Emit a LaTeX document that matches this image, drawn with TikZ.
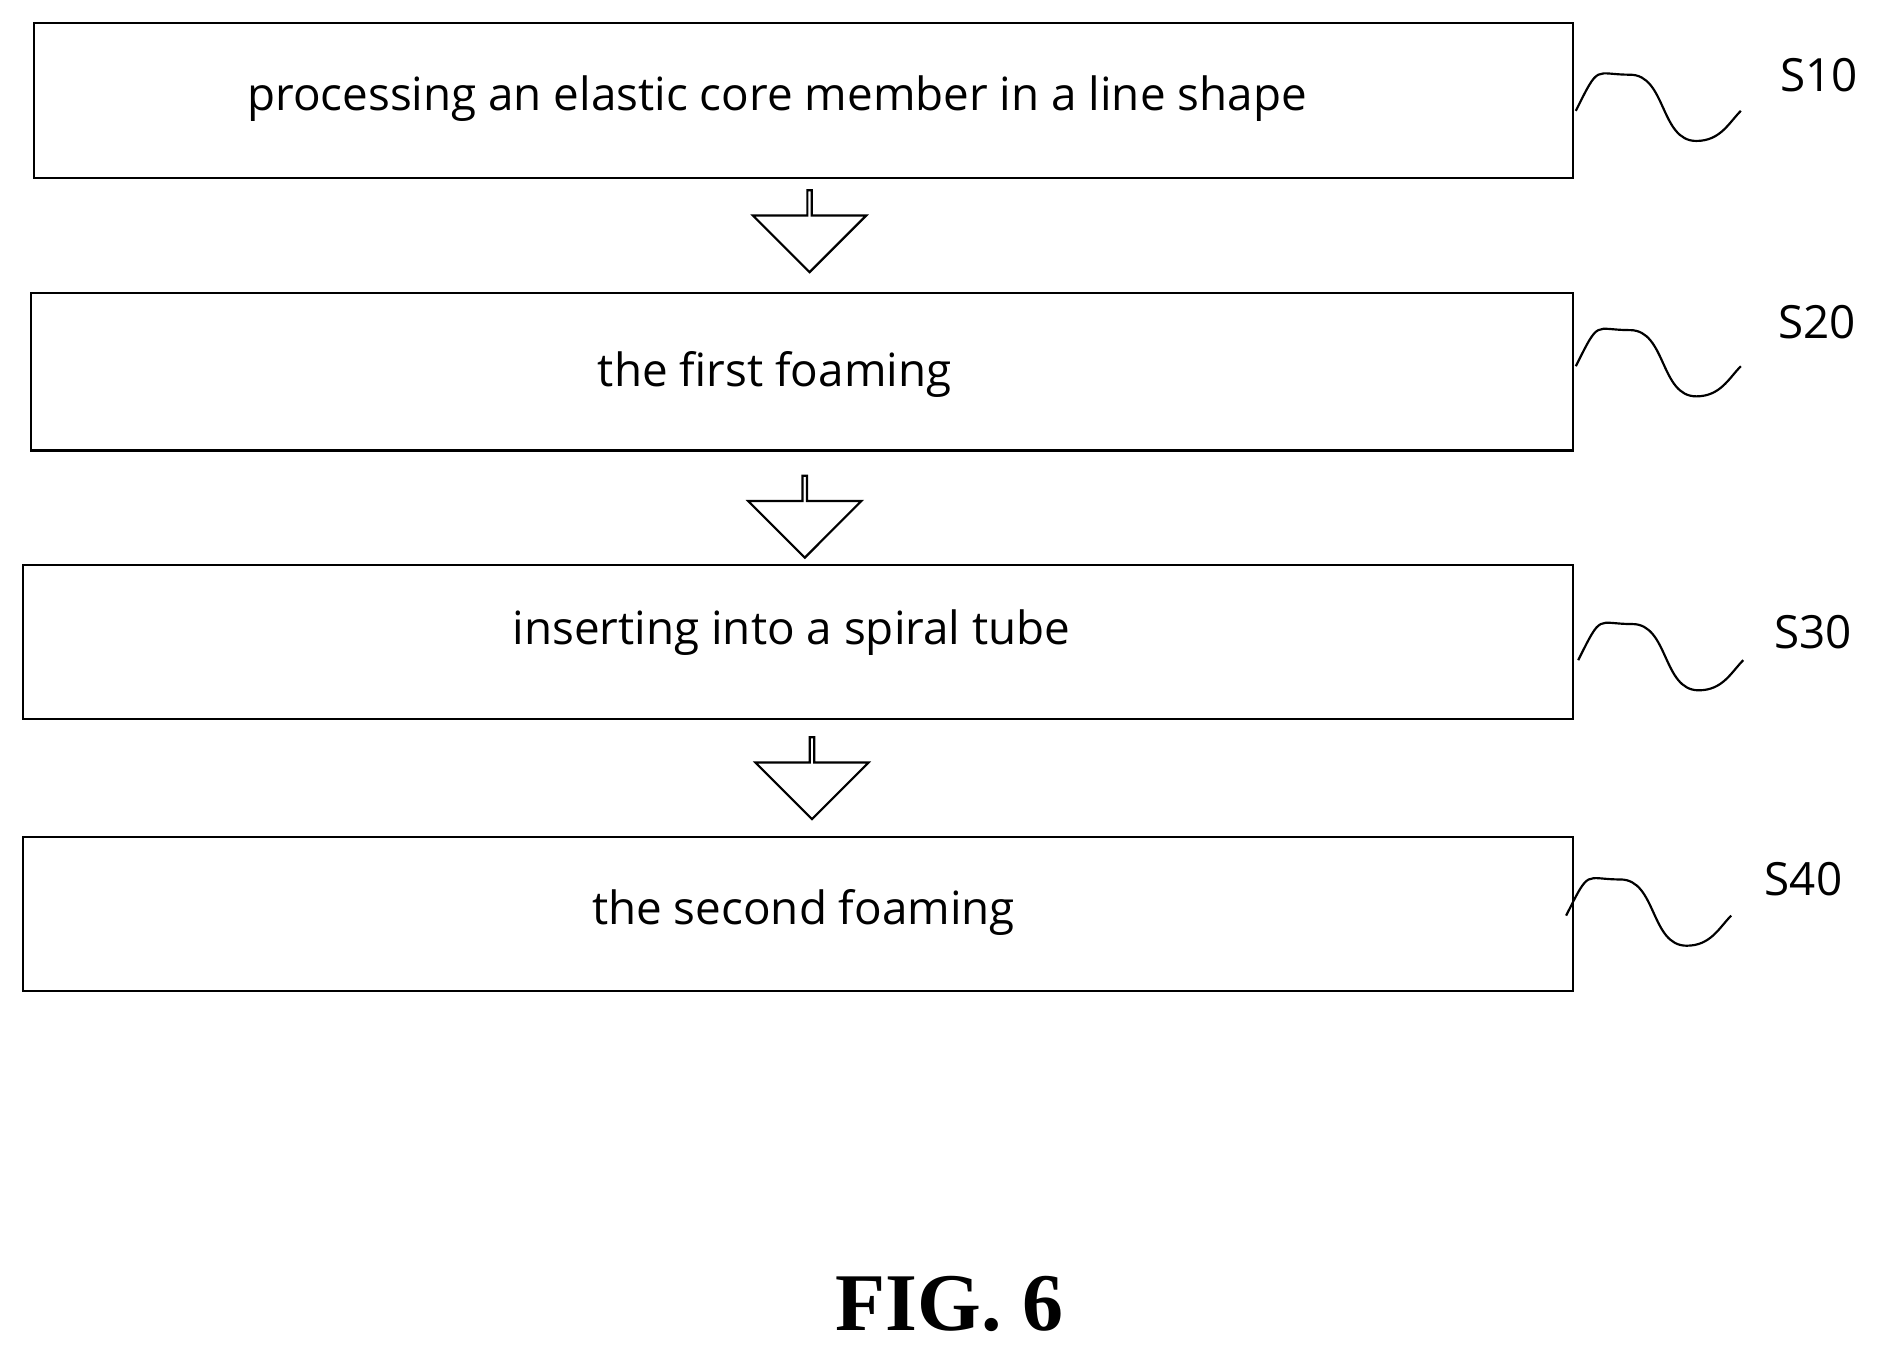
\documentclass[tikz,border=0pt]{standalone}
\usepackage{fontspec}
\setmainfont{Open Sans}
\newfontfamily\figfont{Liberation Serif}
\usetikzlibrary{shapes.arrows}
\tikzset{every picture/.style={line width=0.9pt}}
\tikzset{
  stepbox/.style={draw, rectangle, anchor=north west, inner sep=0pt},
  flow/.style={draw, single arrow, shape border rotate=270, minimum height=34pt, minimum width=47pt, single arrow head extend=11pt, inner sep=0pt},
  tag/.style={font=\fontsize{19}{23}\selectfont}
}
\newcommand{\wave}{.. controls ++(20,-40) and ++(-30,0) .. ++(45,-30) .. controls ++(30,0) and ++(-30,0) .. ++(55,55) .. controls ++(20,0) and ++(-10,10) .. ++(37,-25)}
\begin{document}
\begin{tikzpicture}[x=0.5pt,y=-0.5pt]
\useasboundingbox (0,0) rectangle (1568,1130);

% Steps
\node[stepbox, minimum width=639pt, minimum height=64.5pt] (s10) at (27,18) {};
\node[stepbox, minimum width=640pt, minimum height=65.5pt] (s20) at (25,242) {};
\node[stepbox, minimum width=643.5pt, minimum height=64pt] (s30) at (18,468) {};
\node[stepbox, minimum width=643.5pt, minimum height=64pt] (s40) at (18,694) {};

% Step texts
\node[tag] (t10) at (645,82) {processing an elastic core member in a line shape};
\node[tag] (t20) at (643,311) {the first foaming};
\node[tag] (t30) at (657,525) {inserting into a spiral tube};
\node[tag] (t40) at (667,757) {the second foaming};

% Arrows between steps
\node[flow] (a1) at (672,191) {};
\node[flow] (a2) at (668,428) {};
\node[flow] (a3) at (674,645) {};

% Leaders
\draw (1308,92) \wave;
\draw (1308,304) \wave;
\draw (1310,548) \wave;
\draw (1300,760) \wave;

% Labels
\node[tag] (l10) at (1510,62) {S10};
\node[tag] (l20) at (1508,267) {S20};
\node[tag] (l30) at (1505,525) {S30};
\node[tag] (l40) at (1497,730) {S40};

\node[font=\figfont\bfseries\fontsize{34}{40}\selectfont] (fig) at (788,1082) {FIG. 6};
\end{tikzpicture}
\end{document}
